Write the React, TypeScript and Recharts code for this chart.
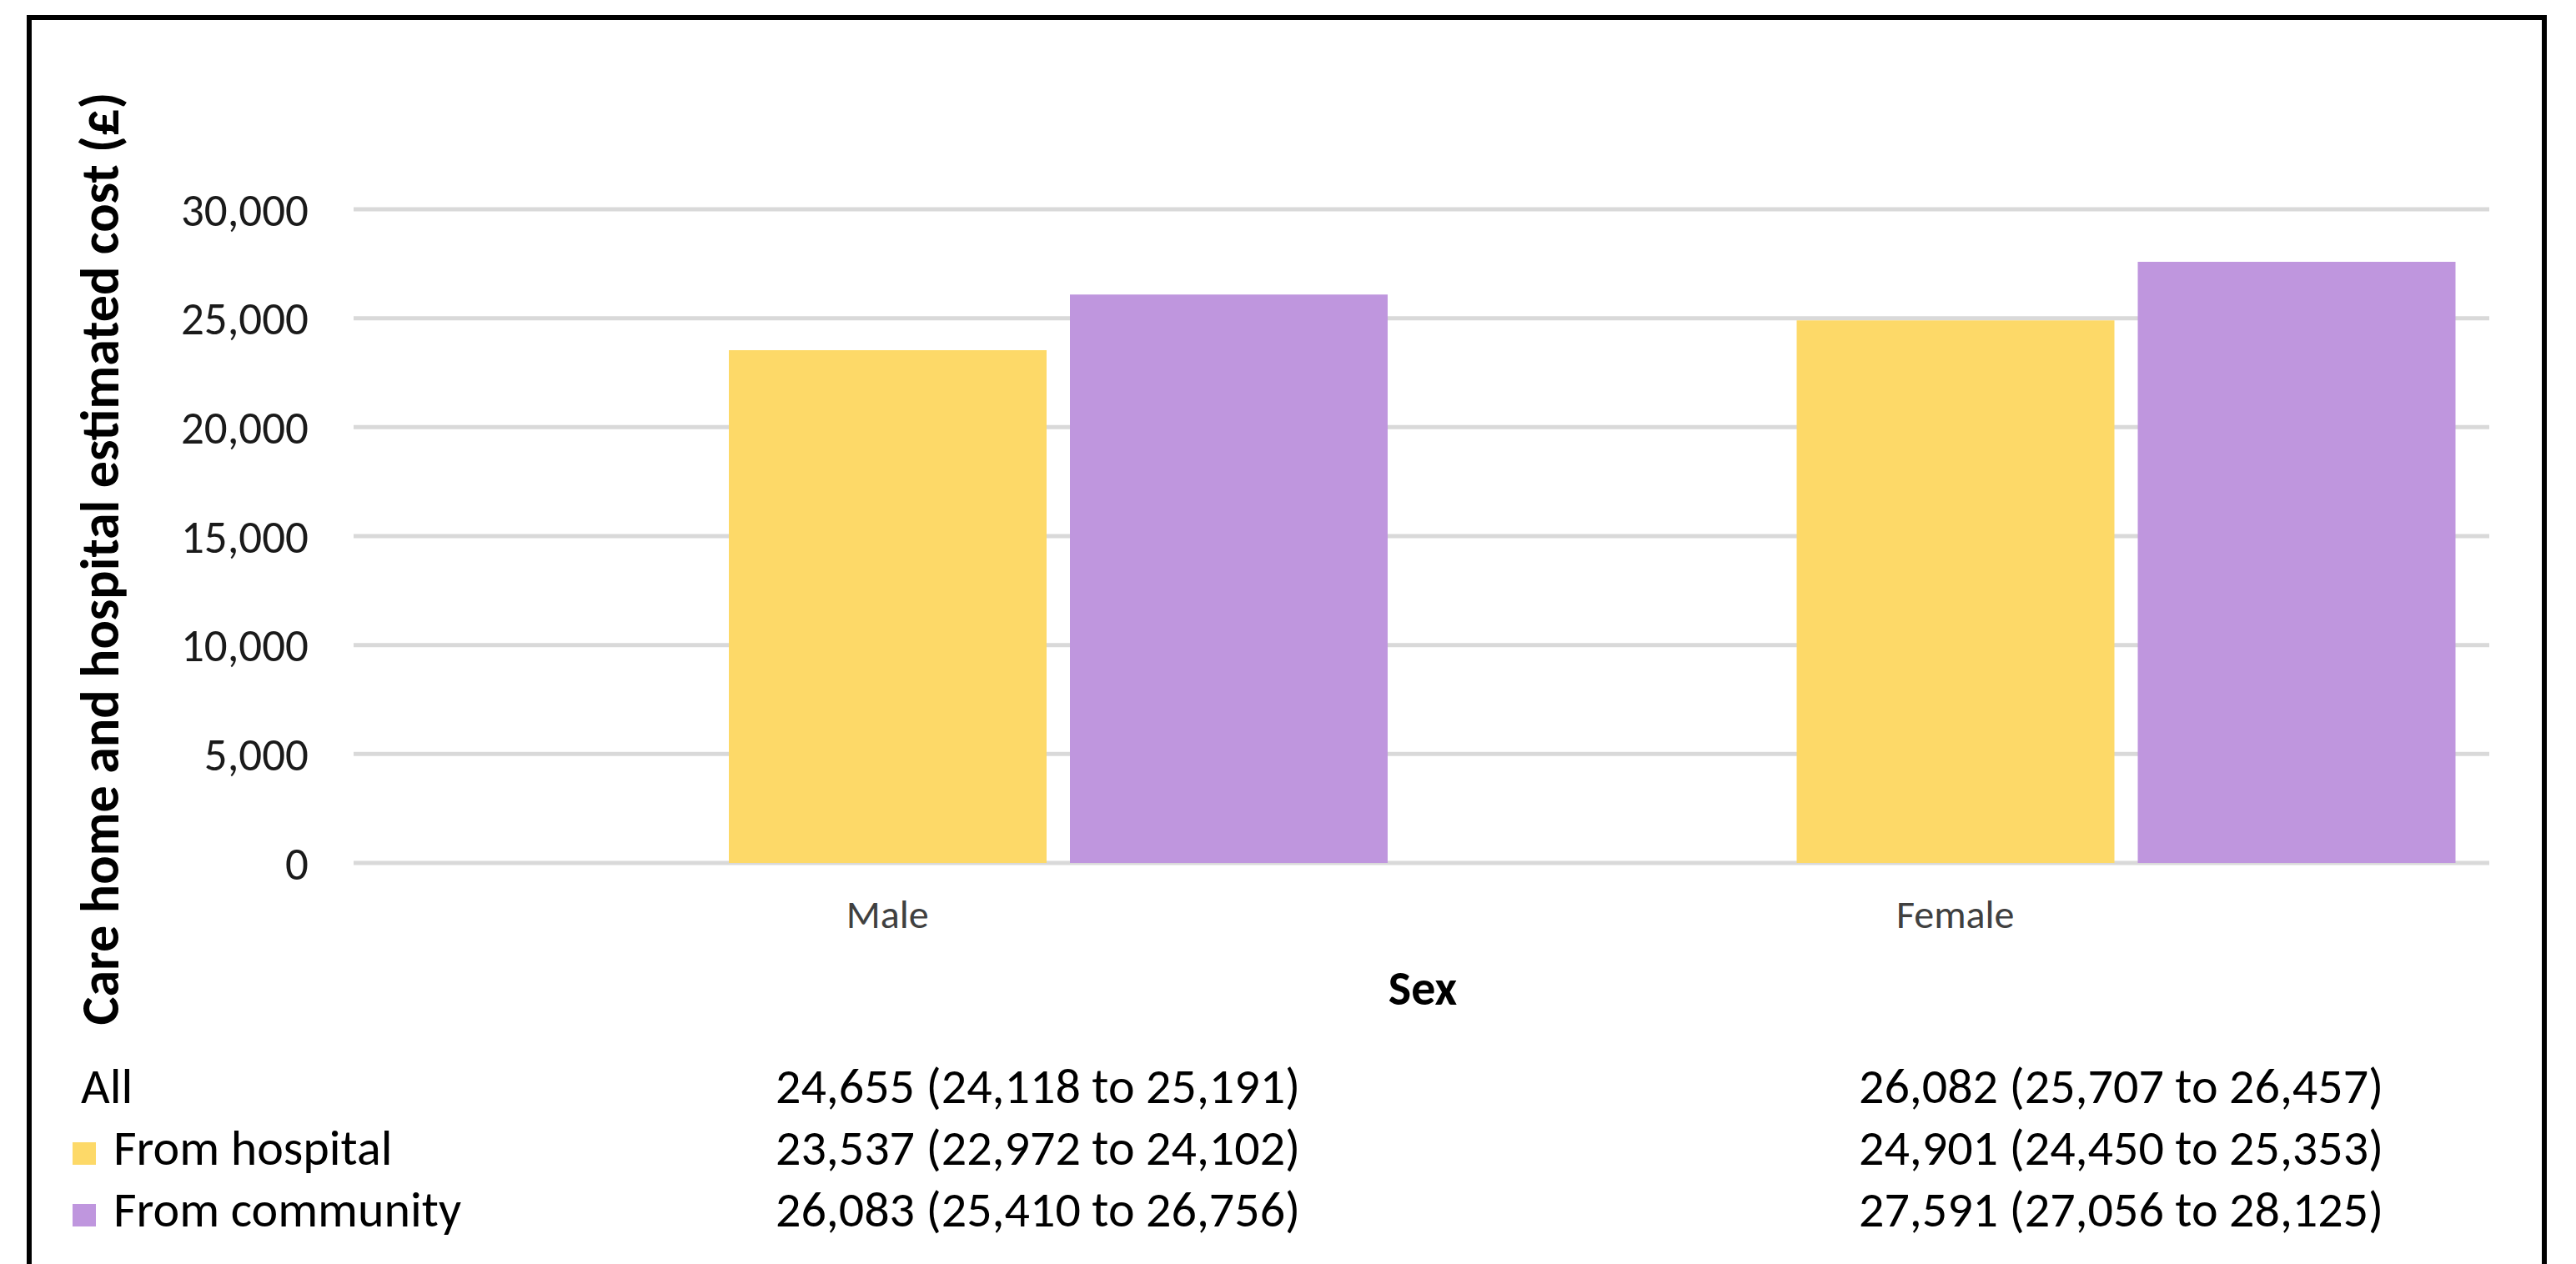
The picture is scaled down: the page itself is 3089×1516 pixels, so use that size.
import { BarChart, Bar, XAxis, YAxis, CartesianGrid } from "recharts";

const categories = ["Male", "Female"];
const allMean = [24655, 26082];
const allLow = [24118, 25707];
const allHigh = [25191, 26457];
const hospitalMean = [23537, 24901];
const hospitalLow = [22972, 24450];
const hospitalHigh = [24102, 25353];
const communityMean = [26083, 27591];
const communityLow = [25410, 27056];
const communityHigh = [26756, 28125];
const yTicks = [0, 5000, 10000, 15000, 20000, 25000, 30000];

const rowLabels = ["All", "From hospital", "From community"];
const seriesColors = ["none", "#FDD968", "#BF96DE"];

const data = categories.map((name, i) => ({
      name,
      All: allMean[i],
      "From hospital": hospitalMean[i],
      "From community": communityMean[i],
}));

const rows = [
      { mean: allMean, low: allLow, high: allHigh },
      { mean: hospitalMean, low: hospitalLow, high: hospitalHigh },
      { mean: communityMean, low: communityLow, high: communityHigh },
];

const fmt = (v: number) => v.toLocaleString("en-GB");
const FONT = "Carlito, Calibri, 'Liberation Sans Narrow', 'Open Sans', sans-serif";

const W = 3089;
const H = 1516;
const Y_AXIS_W = 300;
const X_AXIS_H = 150;

const App = () => {
      return (
            <div
                  style={{
                        position: "absolute",
                        left: 0,
                        top: 0,
                        width: W,
                        height: H,
                        background: "#fff",
                        overflow: "hidden",
                        fontFamily: FONT,
                  }}
            >
                  <div
                        style={{
                              position: "absolute",
                              left: 32,
                              top: 18,
                              width: 3022,
                              height: H - 18,
                              boxSizing: "border-box",
                              borderTop: "6px solid #000",
                              borderLeft: "6px solid #000",
                              borderRight: "6px solid #000",
                        }}
                  />
                  <BarChart
                        width={W}
                        height={H}
                        data={data}
                        barSize={381}
                        barGap={28}
                        margin={{ top: 251, right: 104, left: 424 - Y_AXIS_W, bottom: H - 1035 - X_AXIS_H }}
                        style={{ position: "absolute", left: 0, top: 0 }}
                  >
                        <CartesianGrid vertical={false} stroke="#D9D9D9" strokeWidth={5} />
                        <XAxis
                              dataKey="name"
                              height={X_AXIS_H}
                              axisLine={false}
                              tickLine={false}
                              tickSize={0}
                              tickMargin={44}
                              tick={{ fontSize: 48, fill: "#404040", fontFamily: FONT }}
                              label={{
                                    content: () => (
                                          <text
                                                x={1706}
                                                y={1205}
                                                textAnchor="middle"
                                                fontSize={58}
                                                fontWeight="bold"
                                                fontFamily={FONT}
                                                fill="#000"
                                          >
                                                Sex
                                          </text>
                                    ),
                              }}
                        />
                        <YAxis
                              width={Y_AXIS_W}
                              domain={[0, 30000]}
                              ticks={yTicks}
                              axisLine={false}
                              tickLine={false}
                              tickSize={0}
                              tickMargin={54}
                              tickFormatter={fmt}
                              tick={{ fontSize: 55, fill: "#1a1a1a", fontFamily: FONT }}
                              label={{
                                    content: () => (
                                          <text
                                                x={142}
                                                y={670}
                                                transform="rotate(-90, 142, 670)"
                                                textAnchor="middle"
                                                fontSize={64}
                                                fontWeight="bold"
                                                fontFamily={FONT}
                                                fill="#000"
                                          >
                                                Care home and hospital estimated cost (£)
                                          </text>
                                    ),
                              }}
                        />
                        <Bar dataKey="All" fill="none" isAnimationActive={false} />
                        <Bar dataKey="From hospital" fill={seriesColors[1]} isAnimationActive={false} />
                        <Bar dataKey="From community" fill={seriesColors[2]} isAnimationActive={false} />
                  </BarChart>
                  <svg
                        width={W}
                        height={H}
                        style={{ position: "absolute", left: 0, top: 0, pointerEvents: "none" }}
                  >
                        {rows.map((r, ri) => {
                              const baseline = 1323 + ri * 74;
                              return (
                                    <g key={rowLabels[ri]} fontFamily={FONT} fontSize={60} fill="#000">
                                          {ri > 0 && (
                                                <rect x={87} y={baseline - 27} width={28} height={27} fill={seriesColors[ri]} />
                                          )}
                                          <text x={ri > 0 ? 136 : 97} y={baseline}>
                                                {rowLabels[ri]}
                                          </text>
                                          {categories.map((c, ci) => (
                                                <text key={c} x={ci === 0 ? 930 : 2229} y={baseline}>
                                                      {`${fmt(r.mean[ci])} (${fmt(r.low[ci])} to ${fmt(r.high[ci])})`}
                                                </text>
                                          ))}
                                    </g>
                              );
                        })}
                  </svg>
            </div>
      );
};

export default App;
